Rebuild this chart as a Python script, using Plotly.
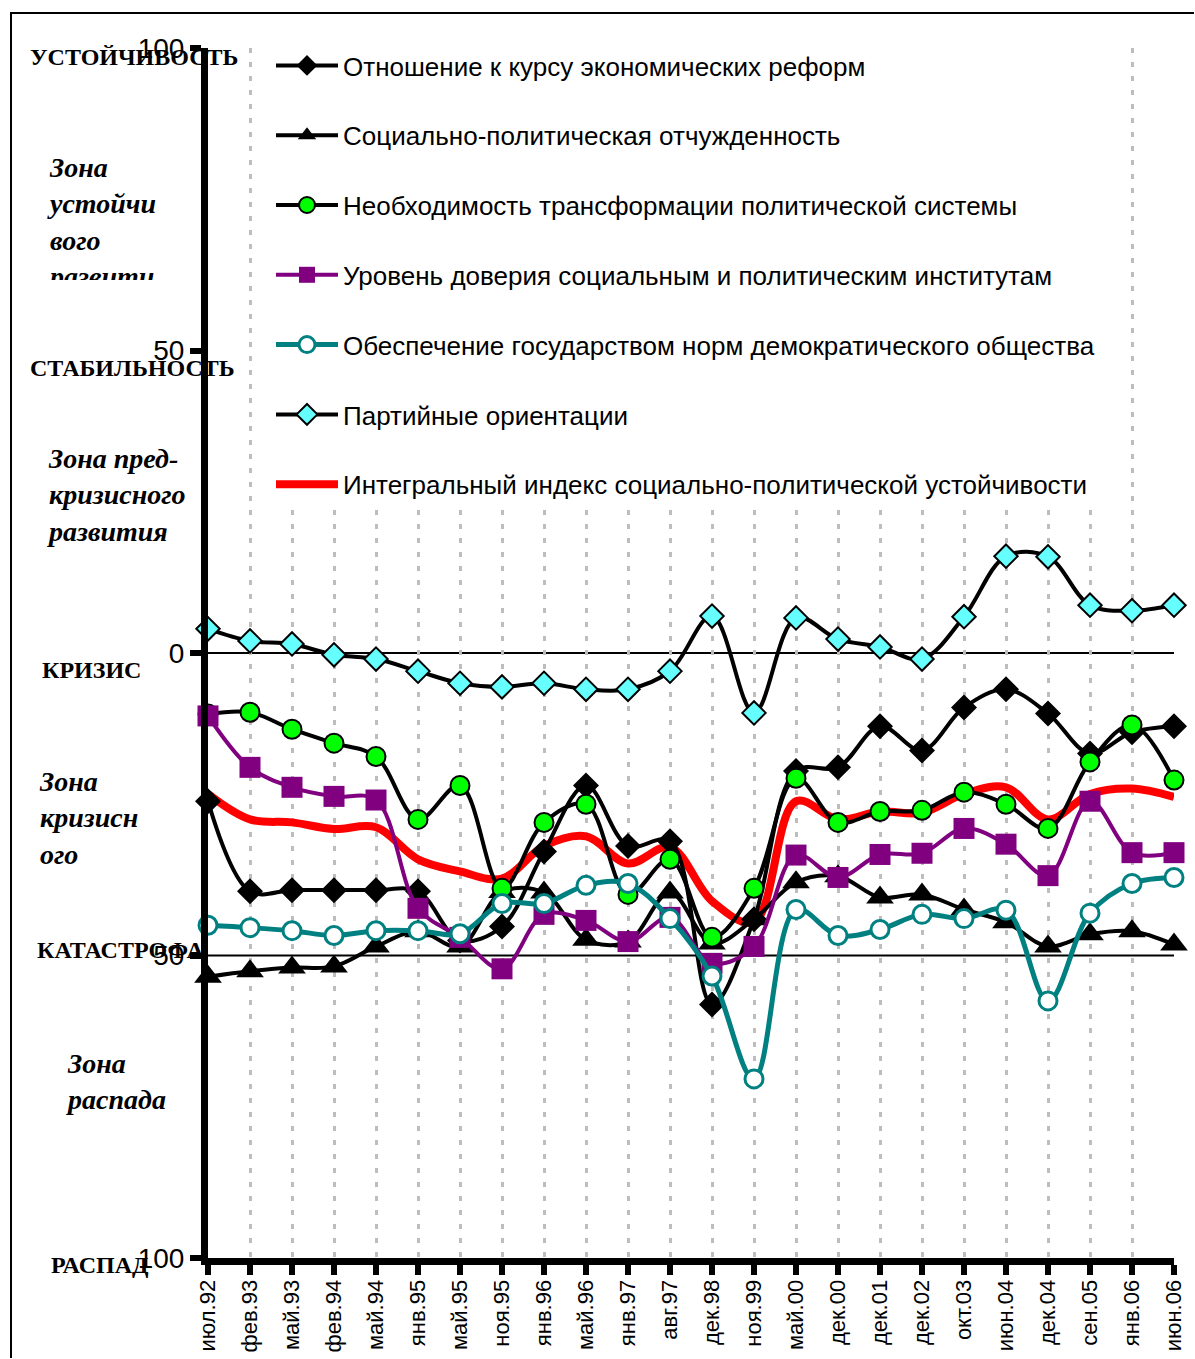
import plotly.graph_objects as go

cats = ['июл.92','фев.93','май.93','фев.94','май.94','янв.95','май.95','ноя.95','янв.96','май.96',
        'янв.97','авг.97','дек.98','ноя.99','май.00','дек.00','дек.01','дек.02','окт.03','июн.04',
        'дек.04','сен.05','янв.06','июн.06']

reform = [-24.5,-39.4,-39.2,-39.2,-39.2,-39.4,-47.5,-45.2,-32.8,-21.9,-31.9,-31.1,-58.1,-44.0,
          -19.5,-18.9,-12.1,-16.1,-9.0,-6.0,-10.0,-16.6,-13.1,-12.1]
alien = [-53.5,-52.6,-52.0,-51.8,-48.5,-46.0,-48.5,-39.5,-39.6,-47.4,-47.7,-39.6,-48.0,-44.0,
         -37.9,-36.9,-40.4,-39.9,-42.4,-44.5,-48.5,-46.5,-46.0,-48.2]
transform = [-10.1,-9.8,-12.6,-14.9,-17.1,-27.5,-21.9,-38.9,-28.0,-25.0,-39.9,-34.1,-47.0,-38.9,
             -20.7,-28.0,-26.2,-26.0,-23.0,-25.0,-29.0,-18.0,-11.9,-21.0]
trust = [-10.4,-18.9,-22.2,-23.7,-24.3,-42.2,-47.0,-52.2,-43.2,-44.2,-47.7,-43.7,-51.3,-48.5,
         -33.4,-37.1,-33.3,-33.1,-29.0,-31.6,-36.8,-24.5,-33.0,-33.0]
norms = [-45.0,-45.4,-45.9,-46.7,-45.9,-45.9,-46.4,-41.4,-41.4,-38.4,-38.1,-43.9,-53.4,-70.4,
         -42.4,-46.7,-45.7,-43.2,-43.9,-42.5,-57.5,-43.0,-38.1,-37.1]
party = [4.0,2.0,1.5,-0.3,-1.0,-3.0,-5.0,-5.6,-5.0,-6.0,-6.0,-3.0,6.1,-9.9,5.8,2.3,1.0,-1.0,
         6.0,16.0,15.9,7.9,7.0,7.9]
integral = [-23.3,-27.5,-28.0,-29.1,-28.8,-34.1,-36.1,-37.3,-31.9,-30.3,-34.8,-32.1,-41.0,-44.5,
            -24.5,-27.5,-26.2,-26.4,-23.3,-22.2,-27.5,-23.3,-22.4,-23.8]

names = ['Отношение к курсу экономических реформ',
         'Социально-политическая отчужденность',
         'Необходимость трансформации политической системы',
         'Уровень доверия социальным и политическим институтам',
         'Обеспечение государством норм демократического общества',
         'Партийные ориентации',
         'Интегральный индекс социально-политической устойчивости']

ytick_vals = [-100, -50, 0, 50, 100]
ytick_text = ['100', '50', '0', '50', '100']

W, H = 1195, 1359
L, R, T, B = 208, 1174, 48, 1258


def px_x(p):
    return (p - L) / (R - L)


def px_y(p):
    return (B - p) / (B - T)


SANS = 'Arial, Liberation Sans, sans-serif'
SERIF = 'Times New Roman, Liberation Serif, serif'

fig = go.Figure()

common = dict(mode='lines+markers', line_shape='spline', cliponaxis=False)

# integral index drawn first (under the others), listed last in legend
fig.add_trace(go.Scatter(x=cats, y=integral, name=names[6], mode='lines', line_shape='spline',
                         cliponaxis=False, line=dict(color='#ff0000', width=8, smoothing=1),
                         legendgroup='g7', legendrank=7))

fig.add_trace(go.Scatter(x=cats, y=reform, name=names[0], **common,
                         line=dict(color='black', width=4, smoothing=1),
                         marker=dict(symbol='diamond', size=20, color='black'),
                         legendgroup='g1', legendrank=1))
fig.add_trace(go.Scatter(x=cats, y=alien, name=names[1], **common,
                         line=dict(color='black', width=4, smoothing=1),
                         marker=dict(symbol='triangle-up', size=24, color='black'),
                         legendgroup='g2', legendrank=2))
fig.add_trace(go.Scatter(x=cats, y=transform, name=names[2], **common,
                         line=dict(color='black', width=4, smoothing=1),
                         marker=dict(symbol='circle', size=19, color='#00ff00',
                                     line=dict(color='black', width=2)),
                         legendgroup='g3', legendrank=3))
fig.add_trace(go.Scatter(x=cats, y=trust, name=names[3], **common,
                         line=dict(color='#800080', width=4, smoothing=1),
                         marker=dict(symbol='square', size=21, color='#800080'),
                         legendgroup='g4', legendrank=4))
fig.add_trace(go.Scatter(x=cats, y=norms, name=names[4], **common,
                         line=dict(color='#008080', width=5, smoothing=1),
                         marker=dict(symbol='circle', size=18, color='white',
                                     line=dict(color='#008080', width=3)),
                         legendgroup='g5', legendrank=5))
fig.add_trace(go.Scatter(x=cats, y=party, name=names[5], **common,
                         line=dict(color='black', width=4, smoothing=1),
                         marker=dict(symbol='diamond', size=18, color='#66ffff',
                                     line=dict(color='black', width=2)),
                         legendgroup='g6', legendrank=6))

# reference lines at 0 and -50
for yv in (0, -50):
    fig.add_shape(type='line', xref='paper', yref='y', x0=0, x1=1, y0=yv, y1=yv,
                  line=dict(color='black', width=2), layer='below')

# outer frame (left and top edges; the rest lies beyond the picture)
fig.add_shape(type='line', xref='paper', yref='paper', x0=px_x(11), x1=px_x(11),
              y0=px_y(1358), y1=px_y(12), line=dict(color='black', width=2))
fig.add_shape(type='line', xref='paper', yref='paper', x0=px_x(10), x1=px_x(1194),
              y0=px_y(13), y1=px_y(13), line=dict(color='black', width=2))

anns = []
caps = [('УСТОЙЧИВОСТЬ', 28, 57), ('СТАБИЛЬНОСТЬ', 28, 368), ('КРИЗИС', 40, 670),
        ('КАТАСТРОФА', 35, 950), ('РАСПАД', 49, 1265)]
for txt, xp, yp in caps:
    anns.append(dict(text=txt, x=px_x(xp), y=px_y(yp), xref='paper', yref='paper',
                     xanchor='left', yanchor='middle', showarrow=False,
                     font=dict(family=SERIF, size=24, color='black', weight='bold')))

zones = [('<i>Зона пред-<br>кризисного<br>развития</i>', 45, 495),
         ('<i>Зона<br>кризисн<br>ого</i>', 37, 818),
         ('<i>Зона<br>распада</i>', 64, 1081)]
for txt, xp, yp in zones:
    anns.append(dict(text=txt, x=px_x(xp), y=px_y(yp), xref='paper', yref='paper',
                     xanchor='left', yanchor='middle', showarrow=False, align='left',
                     font=dict(family=SERIF, size=28, color='black', weight='bold')))
# clipped zone text at top
anns.append(dict(text='<i>Зона<br>устойчи<br>вого<br>развити</i>', x=px_x(45), y=px_y(150),
                 xref='paper', yref='paper', xanchor='left', yanchor='top', showarrow=False,
                 align='left', valign='top', height=128, width=140,
                 font=dict(family=SERIF, size=28, color='black', weight='bold')))

fig.update_layout(
    width=W, height=H,
    margin=dict(l=L, r=W - R, t=T, b=H - B),
    paper_bgcolor='white', plot_bgcolor='white',
    font=dict(family=SANS, color='black'),
    showlegend=True,
    legend=dict(x=px_x(271), y=px_y(42), xanchor='left', yanchor='top', bgcolor='white',
                font=dict(family=SANS, size=26, color='black'),
                itemwidth=62, tracegroupgap=33, traceorder='grouped',
                borderwidth=0),
    annotations=anns,
    xaxis=dict(type='category', categoryarray=cats, range=[0, len(cats) - 1],
               showline=True, linecolor='black', linewidth=7,
               ticks='outside', ticklen=10, tickwidth=6, tickcolor='black',
               tickangle=-90, tickfont=dict(family=SANS, size=22),
               showgrid=True, gridcolor='#bdbdbd', gridwidth=3, griddash='5px,9px',
               zeroline=False, ticklabelstandoff=-4, automargin=False),
    xaxis2=dict(overlaying='x', anchor='y', range=[0, len(cats) - 1], tickmode='linear',
                tick0=0, dtick=1, ticks='inside', ticklen=10, tickwidth=6, tickcolor='black',
                showticklabels=False, showgrid=False, showline=False, zeroline=False,
                side='bottom'),
    yaxis=dict(range=[-100, 100], tickvals=ytick_vals, ticktext=ytick_text,
               showline=True, linecolor='black', linewidth=7,
               ticks='outside', ticklen=11, tickwidth=6, tickcolor='black',
               tickfont=dict(family=SANS, size=28), showgrid=False, zeroline=False,
               ticklabelstandoff=0, automargin=False),
    yaxis2=dict(overlaying='y', anchor='x', side='left', range=[-100, 100],
                tickvals=ytick_vals, ticks='inside', ticklen=11, tickwidth=6,
                tickcolor='black', showticklabels=False, showgrid=False, showline=False,
                zeroline=False),
    yaxis3=dict(overlaying='y', anchor='x', side='right', range=[-100, 100],
                tickvals=[50, 100], ticks='inside', ticklen=15, tickwidth=2,
                tickcolor='black', showticklabels=False, showgrid=False, showline=False,
                zeroline=False),
)

fig.write_html('out.html', config={'displayModeBar': False},
               post_script="document.body.style.margin='0';document.body.style.overflow='hidden';")
